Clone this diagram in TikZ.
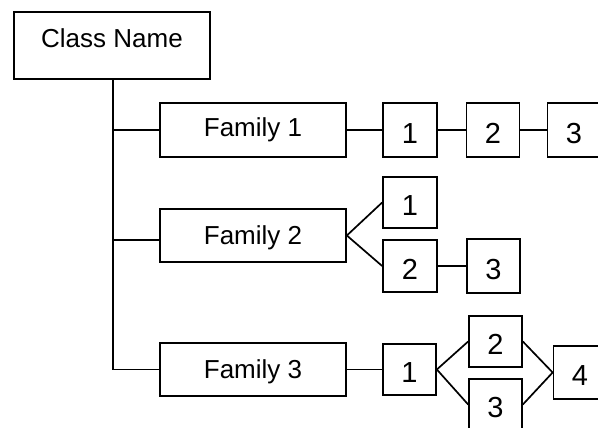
\documentclass[tikz,border=0pt]{standalone}
\usepackage{fontspec}
\setmainfont{Liberation Sans}
\usetikzlibrary{calc}
\begin{document}
\begin{tikzpicture}[x=1pt,y=-1pt,
  line width=1.7pt,
  box/.style={draw, rectangle, inner sep=0pt, line width=1.7pt, text depth=0pt},
  fam/.style={box, minimum width=186pt, minimum height=53pt,
    text height=18.6pt, font=\fontsize{26}{30}\selectfont},
  num/.style={box, minimum width=53pt, minimum height=52pt,
    text height=26.8pt, font=\fontsize{29}{33}\selectfont},
  link/.style={line width=1.7pt}]
\useasboundingbox (0,0) rectangle (598,428);
\clip (0,0) rectangle (598,428);

% root box, caption sits high in the box
\node[box, minimum width=196pt, minimum height=67pt] (cls) at (112,45.5) {};
\node[anchor=base, font=\fontsize{26}{30}\selectfont, inner sep=0pt] (clstext) at (112,48) {Class Name};

% family boxes
\node[fam, minimum height=54pt, text height=13.6pt] (f1) at (253,130) {Family 1};
\node[fam] (f2) at (253,235.5) {Family 2};
\node[fam] (f3) at (253,369.5) {Family 3};

% family 1 members
\node[num, minimum width=54pt, minimum height=54pt] (b11) at (410,130) {1};
\node[num, minimum height=54pt] (b12) at (493,130) {2};
\node[num, minimum height=54pt] (b13) at (574,130) {3};

% family 2 members
\node[num, minimum width=54pt, minimum height=51pt] (b21) at (410,202.5) {1};
\node[num, minimum width=54pt] (b22) at (410,266) {2};
\node[num, minimum height=54pt] (b23) at (493.5,266) {3};

% family 3 members
\node[num, minimum height=51pt] (b31) at (409.5,369.5) {1};
\node[num, minimum height=51pt] (b32) at (495.5,341.5) {2};
\node[num, minimum height=51pt] (b33) at (495.5,404.5) {3};
\node[num, minimum height=53pt] (b34) at (580,372.5) {4};

% trunk and branches
\coordinate (top) at ($(cls.south)+(1,0)$);
\coordinate (j2) at ($(f2.west)+(0,4.5)$);
\draw[link] (top) |- (f3.west);
\draw[link] (top |- f1.west) -- (f1.west);
\draw[link] (top |- j2) -- (j2);

% family 1 chain
\draw[link] (f1.east) -- (b11.west);
\draw[link] (b11.east) -- (b12.west);
\draw[link] (b12.east) -- (b13.west);

% family 2 fork
\draw[link] (b21.west) -- (f2.east) -- (b22.west);
\draw[link] (b22.east) -- (b23.west);

% family 3 diamond
\draw[link] (f3.east) -- (b31.west);
\draw[link] (b32.west) -- (b31.east) -- (b33.west);
\draw[link] (b32.east) -- (b34.west) -- (b33.east);
\end{tikzpicture}
\end{document}
